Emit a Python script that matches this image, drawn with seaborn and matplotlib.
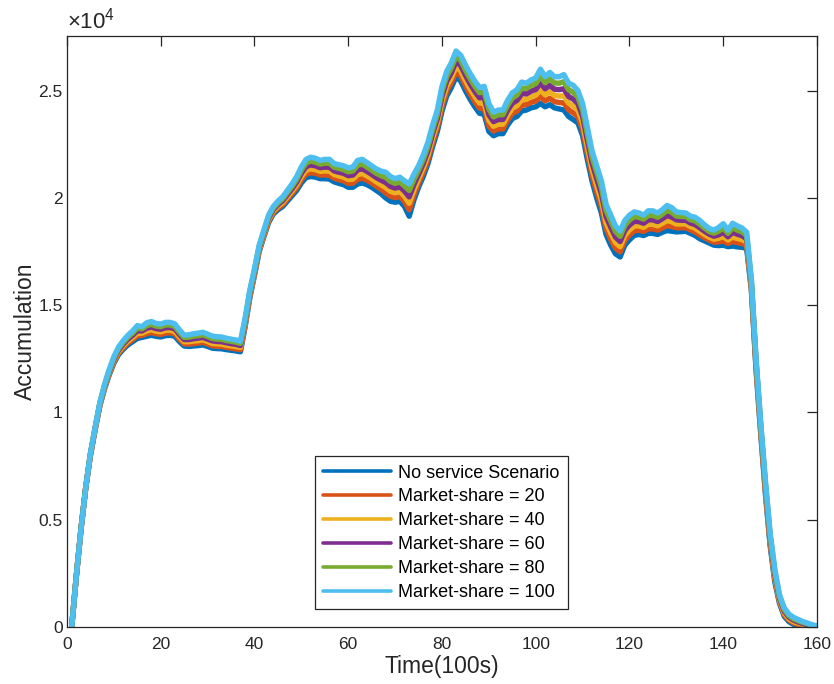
import matplotlib
matplotlib.use("Agg")
import matplotlib.pyplot as plt
import seaborn as sns
import pandas as pd
from matplotlib.lines import Line2D
from matplotlib.ticker import FuncFormatter

# ---------------- data (values in units of 10^4) ----------------
time_100s = list(range(1, 161))

no_service = [
    0, 0.24, 0.46, 0.65, 0.80, 0.92, 1.03, 1.11, 1.175, 1.23,
    1.27, 1.295, 1.315, 1.33, 1.345, 1.35, 1.355, 1.36, 1.355, 1.352,
    1.358, 1.36, 1.355, 1.33, 1.31, 1.308, 1.31, 1.312, 1.315, 1.308,
    1.30, 1.298, 1.297, 1.293, 1.29, 1.287, 1.283, 1.40, 1.535, 1.64,
    1.75, 1.82, 1.885, 1.925, 1.945, 1.96, 1.985, 2.01, 2.035, 2.07,
    2.095, 2.10, 2.097, 2.09, 2.09, 2.088, 2.075, 2.068, 2.062, 2.05,
    2.05, 2.065, 2.07, 2.062, 2.05, 2.035, 2.02, 2.0, 1.985, 1.98,
    1.985, 1.96, 1.915, 1.99, 2.05, 2.10, 2.16, 2.24, 2.31, 2.405,
    2.475, 2.515, 2.565, 2.545, 2.50, 2.46, 2.425, 2.395, 2.39, 2.31,
    2.29, 2.30, 2.30, 2.34, 2.37, 2.38, 2.405, 2.41, 2.42, 2.425,
    2.44, 2.425, 2.435, 2.42, 2.415, 2.41, 2.38, 2.365, 2.35, 2.29,
    2.18, 2.08, 2.0, 1.93, 1.83, 1.78, 1.74, 1.725, 1.78, 1.805,
    1.825, 1.83, 1.825, 1.835, 1.835, 1.83, 1.84, 1.848, 1.845, 1.842,
    1.843, 1.845, 1.835, 1.825, 1.81, 1.80, 1.79, 1.78, 1.778, 1.78,
    1.773, 1.776, 1.772, 1.77, 1.765, 1.57, 1.20, 0.90, 0.62, 0.38,
    0.21, 0.11, 0.05, 0.025, 0.012, 0.006, 0.003, 0.001, 0.0, 0.0,
]

market_share_20 = [
    0, 0.24, 0.46, 0.65, 0.802, 0.922, 1.033, 1.114, 1.18, 1.236,
    1.277, 1.303, 1.324, 1.34, 1.357, 1.36, 1.368, 1.373, 1.367, 1.364,
    1.37, 1.372, 1.367, 1.341, 1.32, 1.319, 1.321, 1.324, 1.327, 1.319,
    1.311, 1.309, 1.308, 1.304, 1.30, 1.297, 1.293, 1.408, 1.542, 1.646,
    1.756, 1.826, 1.892, 1.932, 1.953, 1.969, 1.995, 2.021, 2.048, 2.085,
    2.112, 2.118, 2.115, 2.107, 2.108, 2.106, 2.092, 2.085, 2.08, 2.068,
    2.069, 2.087, 2.092, 2.083, 2.07, 2.055, 2.041, 2.024, 2.008, 2.002,
    2.007, 1.984, 1.945, 2.014, 2.07, 2.12, 2.18, 2.26, 2.33, 2.428,
    2.498, 2.538, 2.589, 2.569, 2.524, 2.484, 2.449, 2.419, 2.416, 2.336,
    2.312, 2.322, 2.322, 2.363, 2.394, 2.405, 2.432, 2.435, 2.446, 2.452,
    2.472, 2.453, 2.465, 2.449, 2.445, 2.443, 2.411, 2.397, 2.38, 2.32,
    2.21, 2.108, 2.03, 1.96, 1.858, 1.808, 1.766, 1.749, 1.803, 1.828,
    1.847, 1.85, 1.844, 1.856, 1.856, 1.85, 1.861, 1.871, 1.867, 1.861,
    1.861, 1.862, 1.851, 1.842, 1.827, 1.815, 1.804, 1.794, 1.795, 1.80,
    1.788, 1.797, 1.792, 1.788, 1.78, 1.58, 1.21, 0.91, 0.632, 0.392,
    0.222, 0.118, 0.058, 0.032, 0.019, 0.012, 0.007, 0.004, 0.002, 0.001,
]

market_share_40 = [
    0, 0.24, 0.46, 0.65, 0.804, 0.924, 1.036, 1.118, 1.185, 1.242,
    1.284, 1.311, 1.333, 1.35, 1.369, 1.37, 1.38, 1.386, 1.379, 1.376,
    1.383, 1.384, 1.378, 1.352, 1.33, 1.33, 1.333, 1.335, 1.339, 1.331,
    1.322, 1.32, 1.319, 1.314, 1.311, 1.307, 1.303, 1.416, 1.549, 1.652,
    1.762, 1.832, 1.899, 1.939, 1.961, 1.978, 2.005, 2.032, 2.061, 2.10,
    2.129, 2.136, 2.132, 2.124, 2.126, 2.125, 2.109, 2.103, 2.097, 2.086,
    2.088, 2.109, 2.114, 2.103, 2.09, 2.075, 2.062, 2.048, 2.031, 2.024,
    2.03, 2.008, 1.975, 2.038, 2.09, 2.14, 2.20, 2.28, 2.35, 2.451,
    2.521, 2.561, 2.613, 2.593, 2.548, 2.508, 2.473, 2.443, 2.442, 2.362,
    2.334, 2.344, 2.344, 2.386, 2.418, 2.43, 2.459, 2.46, 2.472, 2.479,
    2.504, 2.481, 2.495, 2.478, 2.475, 2.476, 2.442, 2.429, 2.41, 2.35,
    2.24, 2.136, 2.06, 1.99, 1.886, 1.836, 1.792, 1.773, 1.826, 1.851,
    1.869, 1.87, 1.863, 1.877, 1.877, 1.87, 1.882, 1.895, 1.889, 1.879,
    1.879, 1.879, 1.867, 1.859, 1.844, 1.83, 1.817, 1.808, 1.812, 1.82,
    1.804, 1.818, 1.811, 1.806, 1.795, 1.59, 1.22, 0.92, 0.644, 0.404,
    0.234, 0.126, 0.066, 0.039, 0.025, 0.018, 0.012, 0.008, 0.004, 0.002,
]

market_share_60 = [
    0, 0.24, 0.46, 0.65, 0.806, 0.926, 1.039, 1.122, 1.19, 1.248,
    1.291, 1.319, 1.342, 1.36, 1.381, 1.38, 1.393, 1.398, 1.391, 1.388,
    1.395, 1.396, 1.39, 1.363, 1.34, 1.34, 1.344, 1.347, 1.35, 1.342,
    1.334, 1.331, 1.33, 1.325, 1.321, 1.318, 1.312, 1.424, 1.556, 1.658,
    1.768, 1.838, 1.906, 1.946, 1.969, 1.987, 2.015, 2.043, 2.074, 2.115,
    2.146, 2.154, 2.15, 2.141, 2.144, 2.143, 2.126, 2.12, 2.115, 2.104,
    2.107, 2.131, 2.136, 2.124, 2.11, 2.095, 2.083, 2.072, 2.054, 2.046,
    2.052, 2.032, 2.005, 2.062, 2.11, 2.16, 2.22, 2.30, 2.37, 2.474,
    2.544, 2.584, 2.637, 2.617, 2.572, 2.532, 2.497, 2.467, 2.468, 2.388,
    2.356, 2.366, 2.366, 2.409, 2.442, 2.455, 2.486, 2.485, 2.498, 2.506,
    2.536, 2.509, 2.525, 2.507, 2.505, 2.509, 2.473, 2.461, 2.44, 2.38,
    2.27, 2.164, 2.09, 2.02, 1.914, 1.864, 1.818, 1.797, 1.849, 1.874,
    1.891, 1.89, 1.882, 1.898, 1.898, 1.89, 1.903, 1.918, 1.911, 1.898,
    1.896, 1.896, 1.883, 1.876, 1.861, 1.845, 1.831, 1.822, 1.828, 1.84,
    1.819, 1.84, 1.831, 1.824, 1.81, 1.60, 1.23, 0.93, 0.656, 0.416,
    0.246, 0.134, 0.074, 0.046, 0.032, 0.023, 0.016, 0.011, 0.006, 0.003,
]

market_share_80 = [
    0, 0.24, 0.46, 0.65, 0.808, 0.928, 1.042, 1.126, 1.195, 1.254,
    1.298, 1.327, 1.351, 1.37, 1.393, 1.39, 1.405, 1.411, 1.403, 1.40,
    1.408, 1.408, 1.401, 1.374, 1.35, 1.351, 1.356, 1.358, 1.362, 1.354,
    1.345, 1.342, 1.341, 1.335, 1.332, 1.328, 1.322, 1.432, 1.563, 1.664,
    1.774, 1.844, 1.913, 1.953, 1.977, 1.996, 2.025, 2.054, 2.087, 2.13,
    2.163, 2.172, 2.167, 2.158, 2.162, 2.162, 2.143, 2.138, 2.132, 2.122,
    2.126, 2.153, 2.158, 2.144, 2.13, 2.115, 2.104, 2.096, 2.077, 2.068,
    2.075, 2.056, 2.035, 2.086, 2.13, 2.18, 2.24, 2.32, 2.39, 2.497,
    2.567, 2.607, 2.661, 2.641, 2.596, 2.556, 2.521, 2.491, 2.494, 2.414,
    2.378, 2.388, 2.388, 2.432, 2.466, 2.48, 2.513, 2.51, 2.524, 2.533,
    2.568, 2.537, 2.555, 2.536, 2.535, 2.542, 2.504, 2.493, 2.47, 2.41,
    2.30, 2.192, 2.12, 2.05, 1.942, 1.892, 1.844, 1.821, 1.872, 1.897,
    1.913, 1.91, 1.901, 1.919, 1.919, 1.91, 1.924, 1.942, 1.933, 1.916,
    1.914, 1.913, 1.899, 1.893, 1.878, 1.86, 1.844, 1.836, 1.845, 1.86,
    1.835, 1.861, 1.85, 1.842, 1.825, 1.61, 1.24, 0.94, 0.668, 0.428,
    0.258, 0.142, 0.082, 0.053, 0.038, 0.029, 0.021, 0.015, 0.008, 0.004,
]

market_share_100 = [
    0, 0.24, 0.46, 0.65, 0.81, 0.93, 1.045, 1.13, 1.20, 1.26,
    1.305, 1.335, 1.36, 1.38, 1.405, 1.40, 1.418, 1.424, 1.415, 1.412,
    1.42, 1.42, 1.413, 1.385, 1.36, 1.362, 1.367, 1.37, 1.374, 1.365,
    1.356, 1.353, 1.352, 1.346, 1.342, 1.338, 1.332, 1.44, 1.57, 1.67,
    1.78, 1.85, 1.92, 1.96, 1.985, 2.005, 2.035, 2.065, 2.10, 2.145,
    2.18, 2.19, 2.185, 2.175, 2.18, 2.18, 2.16, 2.155, 2.15, 2.14,
    2.145, 2.175, 2.18, 2.165, 2.15, 2.135, 2.125, 2.12, 2.10, 2.09,
    2.097, 2.08, 2.065, 2.11, 2.15, 2.20, 2.26, 2.34, 2.41, 2.52,
    2.59, 2.63, 2.685, 2.665, 2.62, 2.58, 2.545, 2.515, 2.52, 2.44,
    2.40, 2.41, 2.41, 2.455, 2.49, 2.505, 2.54, 2.535, 2.55, 2.56,
    2.60, 2.565, 2.585, 2.565, 2.565, 2.575, 2.535, 2.525, 2.50, 2.44,
    2.33, 2.22, 2.15, 2.08, 1.97, 1.92, 1.87, 1.845, 1.895, 1.92,
    1.935, 1.93, 1.92, 1.94, 1.94, 1.93, 1.945, 1.965, 1.955, 1.935,
    1.932, 1.93, 1.915, 1.91, 1.895, 1.875, 1.858, 1.85, 1.862, 1.88,
    1.85, 1.882, 1.87, 1.86, 1.84, 1.62, 1.25, 0.95, 0.68, 0.44,
    0.27, 0.15, 0.09, 0.06, 0.045, 0.035, 0.025, 0.018, 0.01, 0.005,
]

series_labels = [
    "No service Scenario",
    "Market-share = 20",
    "Market-share = 40",
    "Market-share = 60",
    "Market-share = 80",
    "Market-share = 100",
]
series_values = [no_service, market_share_20, market_share_40,
                 market_share_60, market_share_80, market_share_100]
series_colors = ["#0072BD", "#D95319", "#EDB120", "#7E2F8E", "#77AC30", "#4DBEEE"]

y_ticks = [0, 0.5, 1, 1.5, 2, 2.5]
x_ticks = [0, 20, 40, 60, 80, 100, 120, 140, 160]
SCALE = 1e4

# ---------------- long table ----------------
frames = []
for lab, vals in zip(series_labels, series_values):
    frames.append(pd.DataFrame({
        "time": time_100s,
        "acc": [v * SCALE for v in vals],
        "scenario": lab,
    }))
df = pd.concat(frames, ignore_index=True)

# ---------------- style ----------------
sns.set_theme(style="white")
plt.rcParams["font.family"] = ["Liberation Sans", "DejaVu Sans"]
plt.rcParams["mathtext.fontset"] = "custom"
plt.rcParams["mathtext.rm"] = "Liberation Sans"
plt.rcParams["mathtext.it"] = "Liberation Sans:italic"
TXT = "#262626"

fig = plt.figure(figsize=(8.34, 6.84), dpi=100)
ax = fig.add_axes([67 / 834, 1 - 627 / 684, 750 / 834, 591 / 684])

sns.lineplot(
    data=df, x="time", y="acc", hue="scenario",
    hue_order=series_labels,
    palette=dict(zip(series_labels, series_colors)),
    linewidth=3.9, estimator=None, sort=False,
    legend=False, ax=ax,
)

ax.set_xlim(0, 160)
ax.set_ylim(0, 27550)
ax.set_xticks(x_ticks)
ax.set_yticks([t * SCALE for t in y_ticks])
ax.yaxis.set_major_formatter(FuncFormatter(lambda v, p: f"{v / SCALE:g}"))
ax.tick_params(axis="both", direction="in", length=7, width=0.9,
               top=True, right=True, labelsize=12.5, colors=TXT)
ax.tick_params(axis="x", pad=7)
ax.tick_params(axis="y", pad=3)
for sp in ax.spines.values():
    sp.set_visible(True)
    sp.set_color(TXT)
    sp.set_linewidth(0.9)

ax.set_xlabel("Time(100s)", fontsize=16.5, color=TXT, labelpad=2)
ax.set_ylabel("Accumulation", fontsize=16.5, color=TXT, labelpad=1)

ax.text(0.0, 1.004, r"$\times10^{4}$", transform=ax.transAxes,
        ha="left", va="bottom", fontsize=16, color=TXT)

handles = [Line2D([0], [0], color=c, lw=2.6) for c in series_colors]
leg = ax.legend(handles, series_labels, loc="lower left",
                bbox_to_anchor=(0.331, 0.0305), borderaxespad=0,
                fontsize=13, frameon=True, fancybox=False, framealpha=1,
                edgecolor=TXT, borderpad=0.45, handlelength=3.75,
                handletextpad=0.4, labelspacing=0.38)
leg.get_frame().set_linewidth(0.9)
for t in leg.get_texts():
    t.set_color("black")

fig.savefig("out.png", dpi=100, facecolor="white")
